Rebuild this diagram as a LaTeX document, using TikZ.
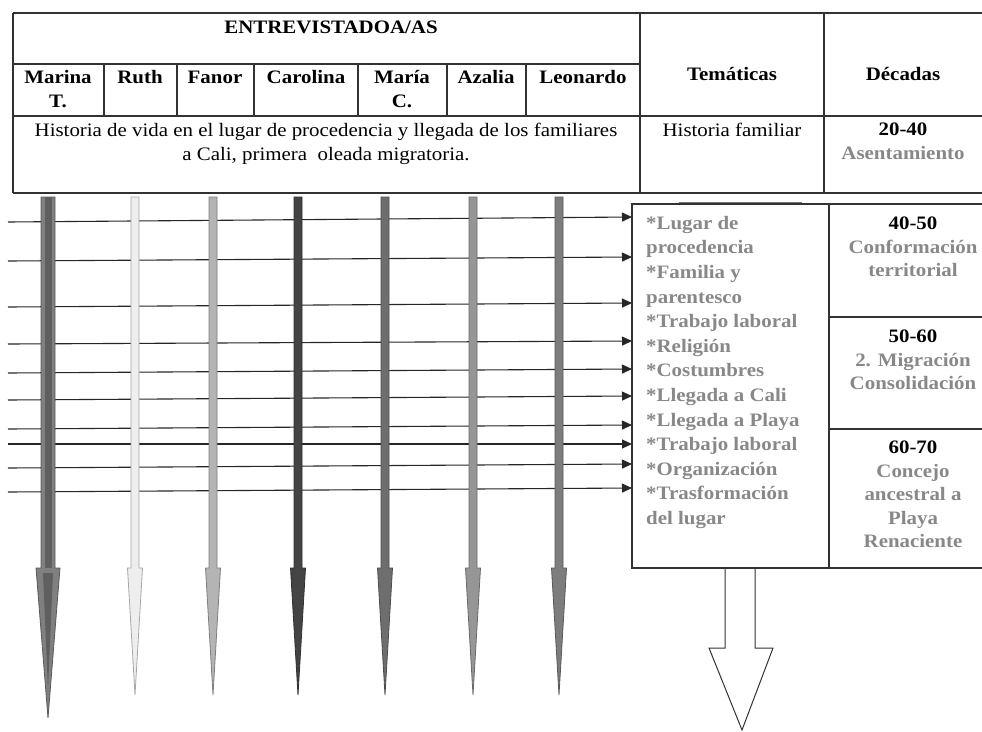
\documentclass[tikz,border=0pt]{standalone}
\usepackage{fontspec}
\setmainfont{Liberation Serif}[FakeStretch=1.1]
\usetikzlibrary{arrows.meta}

\definecolor{rule}{RGB}{50,50,50}
\definecolor{tgray}{RGB}{136,136,136}
\definecolor{marinaC}{RGB}{128,128,128}
\definecolor{marinaD}{RGB}{95,95,95}
\definecolor{ruthC}{RGB}{238,238,238}
\definecolor{fanorC}{RGB}{180,180,180}
\definecolor{carolinaC}{RGB}{68,68,68}
\definecolor{mariaC}{RGB}{110,110,110}
\definecolor{azaliaC}{RGB}{150,150,150}
\definecolor{leonardoC}{RGB}{125,125,125}

\begin{document}
\begin{tikzpicture}[x=1pt,y=-1pt,
  font=\fontsize{19}{24}\selectfont,
  hline/.style={line width=1.3pt,draw=rule},
  head/.style={font=\fontsize{19}{24}\selectfont\bfseries,inner sep=0pt},
  plain/.style={inner sep=0pt},
  grey/.style={text=tgray,font=\fontsize{19}{24.6}\selectfont\bfseries,inner sep=0pt},
  decade/.style={text=tgray,font=\fontsize{19}{23.5}\selectfont\bfseries,inner sep=0pt,align=center,anchor=north},
  flow/.style={-{Triangle[length=10pt,width=9pt]},line width=1.1pt,draw=black!85}]

\useasboundingbox (0,0) rectangle (982,731);
\clip (0,0) rectangle (982,731);

% upper table
\draw [hline] (13,13) -- (990,13);
\draw [hline] (13,64) -- (640,64);
\draw [hline] (13,116) -- (990,116);
\draw [hline] (13,193) -- (990,193);
\draw [hline] (13,13) -- (13,193);
\foreach \x in {104,177,254,358,447,526}
  \draw [hline] (\x,64) -- (\x,116);
\draw [hline] (640,13) -- (640,193);
\draw [hline] (824,13) -- (824,193);

\node [head,anchor=base] (entrev) at (331,33.5) {ENTREVISTADOA/AS};
\node [head,anchor=north,align=center] (marina) at (58,70) {Marina\\T.};
\node [head,anchor=base] (ruth) at (140,83.5) {Ruth};
\node [head,anchor=base] (fanor) at (215,83.5) {Fanor};
\node [head,anchor=base] (carolina) at (306,83.5) {Carolina};
\node [head,anchor=north,align=center] (maria) at (402,70) {María\\C.};
\node [head,anchor=base] (azalia) at (486,83.5) {Azalia};
\node [head,anchor=base] (leonardo) at (583,83.5) {Leonardo};
\node [head,anchor=base] (tematicas) at (732,80) {Temáticas};
\node [head,anchor=base] (decadas) at (903,80) {Décadas};

\node [plain,anchor=north,align=center] (historia) at (326,123)
  {Historia de vida en el lugar de procedencia y llegada de los familiares\\a Cali, primera\ \ oleada migratoria.};
\node [plain,anchor=base] (histfam) at (732,136) {Historia familiar};
\node [decade] (d2040) at (903,123) {\textcolor{black}{20-40}\\Asentamiento};

% lower boxes
\draw [line width=2pt,draw=black!55] (679,203) -- (802,203);
\draw [hline] (632,204) rectangle (829,568);
\draw [hline] (829,204) -- (990,204);
\draw [hline] (829,317) -- (990,317);
\draw [hline] (829,429) -- (990,429);
\draw [hline] (829,568) -- (990,568);

\node [grey,anchor=north west,align=left] (temas) at (646,216)
  {*Lugar de\\procedencia\\*Familia y\\parentesco\\*Trabajo laboral\\*Religión\\*Costumbres\\*Llegada a Cali\\*Llegada a Playa\\*Trabajo laboral\\*Organización\\*Trasformación\\del lugar};

\node [decade] (d4050) at (913,217) {\textcolor{black}{40-50}\\Conformación\\territorial};
\node [decade] (d5060) at (913,330) {\textcolor{black}{50-60}\\2. Migración\\Consolidación};
\node [decade] (d6070) at (913,441) {\textcolor{black}{60-70}\\Concejo\\ancestral a\\Playa\\Renaciente};

% arrows into the themes box
\foreach \i/\ya/\yb in {1/222/217,2/261/257,3/307/303,4/344/341,5/373/369,
                        6/400/396,7/429/425,8/444/444,9/468/464,10/492/488}{
  \coordinate (src\i) at (8,\ya);
  \coordinate (dst\i) at (632,\yb);
  \draw [flow] (src\i) -- (dst\i);
}

% one arrow per interviewee
\foreach \x/\w/\h/\tip/\fc in {48/7/12/718/marinaC,135/4/7.5/695/ruthC,
    213/4/7.5/695/fanorC,298/4/7.5/695/carolinaC,385/4/7.5/695/mariaC,
    473/4/7.5/695/azaliaC,559/4/7.5/695/leonardoC}{
  \filldraw [fill=\fc,draw=\fc!70!black,line width=0.8pt]
    ({\x-\w},197) -- ({\x-\w},568) -- ({\x-\h},568) -- (\x,\tip)
    -- ({\x+\h},568) -- ({\x+\w},568) -- ({\x+\w},197) -- cycle;
}
\fill [marinaD] (45,197) rectangle (52,568);
\fill [marinaD] (43,573) -- (48,690) -- (53,573) -- cycle;

% hollow arrow under the themes box
\draw [line width=1pt,draw=black!80] (725,568) -- (725,648) -- (709,648) -- (742,730)
  -- (773,648) -- (755,648) -- (755,568);

\end{tikzpicture}
\end{document}
